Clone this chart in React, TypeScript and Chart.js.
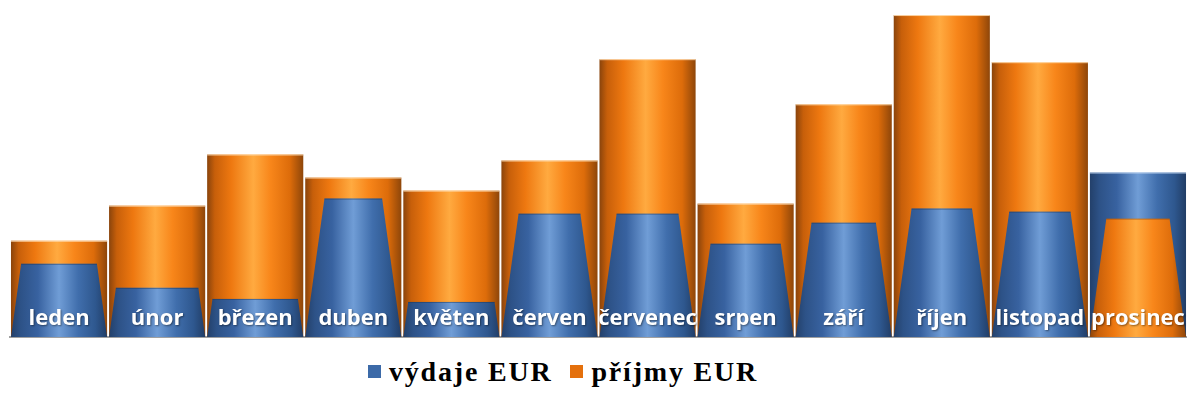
import React, { useEffect, useRef } from "react";
import { Chart, registerables } from "chart.js";

Chart.register(...registerables);

const months = ["leden", "únor", "březen", "duben", "květen", "červen", "červenec", "srpen", "září", "říjen", "listopad", "prosinec"];
const vydaje = [73, 49, 38, 138, 35, 123, 123, 93, 114, 128, 125, 164];
const prijmy = [96, 131, 182, 159, 146, 176, 277, 133, 232, 321, 274, 118];
const seriesNames = ["výdaje EUR", "příjmy EUR"];
const Y_MAX = 336;
const CONE_APEX = 345;

const BLUE = "#3C6AA8";
const ORANGE = "#E4700C";

function makeGrad(ctx: CanvasRenderingContext2D, x0: number, x1: number, kind: "b" | "o") {
  const g = ctx.createLinearGradient(x0, 0, x1, 0);
  if (kind === "o") {
    g.addColorStop(0, "#8A440C");
    g.addColorStop(0.08, "#C75F0A");
    g.addColorStop(0.25, "#EE7810");
    g.addColorStop(0.48, "#FFAA40");
    g.addColorStop(0.66, "#F8861A");
    g.addColorStop(0.86, "#DD6C0A");
    g.addColorStop(1, "#8E460A");
  } else {
    g.addColorStop(0, "#23406A");
    g.addColorStop(0.1, "#2D5287");
    g.addColorStop(0.28, "#3862A0");
    g.addColorStop(0.5, "#709DD6");
    g.addColorStop(0.7, "#406EAC");
    g.addColorStop(0.88, "#2E578E");
    g.addColorStop(1, "#213D66");
  }
  return g;
}

const shapesPlugin = {
  id: "cylinderCone",
  beforeDatasetDraw() {
    return false;
  },
  afterDatasetsDraw(chart: any) {
    const ctx: CanvasRenderingContext2D = chart.ctx;
    const m0 = chart.getDatasetMeta(0);
    const m1 = chart.getDatasetMeta(1);
    const ys = chart.scales.y;
    const apexY = ys.getPixelForValue(CONE_APEX);
    const labels: string[] = chart.data.labels;
    const d0: number[] = chart.data.datasets[0].data;
    const d1: number[] = chart.data.datasets[1].data;
    labels.forEach((lab, i) => {
      const e0 = m0.data[i];
      const e1 = m1.data[i];
      const orangeBig = d1[i] >= d0[i];
      const big = orangeBig ? e1 : e0;
      const small = orangeBig ? e0 : e1;
      const bigKind = orangeBig ? "o" : "b";
      const smallKind = orangeBig ? "b" : "o";
      const x = big.x;
      const w = big.width;
      const base = big.base;
      const left = x - w / 2;
      const right = x + w / 2;
      ctx.save();
      ctx.fillStyle = makeGrad(ctx, left, right, bigKind as any);
      ctx.fillRect(left, big.y, w, base - big.y);
      ctx.fillStyle = bigKind === "o" ? "rgba(255,222,180,0.9)" : "rgba(190,212,240,0.9)";
      ctx.fillRect(left, big.y, w, 1);
      const hwBase = w / 2;
      const hwTop = (hwBase * (small.y - apexY)) / (base - apexY);
      ctx.beginPath();
      ctx.moveTo(x - hwBase, base);
      ctx.lineTo(x - hwTop, small.y);
      ctx.lineTo(x + hwTop, small.y);
      ctx.lineTo(x + hwBase, base);
      ctx.closePath();
      ctx.fillStyle = makeGrad(ctx, left, right, smallKind as any);
      ctx.fill();
      ctx.strokeStyle = smallKind === "o" ? "rgba(140,70,10,0.5)" : "rgba(30,55,90,0.5)";
      ctx.lineWidth = 1;
      ctx.beginPath();
      ctx.moveTo(x - hwTop, small.y + 0.5);
      ctx.lineTo(x + hwTop, small.y + 0.5);
      ctx.stroke();
      ctx.font = "bold 22px 'Open Sans'";
      ctx.fillStyle = "#FFFFFF";
      ctx.textAlign = "center";
      ctx.textBaseline = "alphabetic";
      ctx.shadowColor = "rgba(0,0,0,0.45)";
      ctx.shadowBlur = 2;
      ctx.shadowOffsetX = 1;
      ctx.shadowOffsetY = 1;
      ctx.fillText(lab, x, base - 12);
      ctx.restore();
    });
  },
};

export default function App() {
  const canvasRef = useRef<HTMLCanvasElement | null>(null);

  useEffect(() => {
    if (!canvasRef.current) return;
    const chart = new Chart(canvasRef.current, {
      type: "bar",
      data: {
        labels: months,
        datasets: [
          { label: seriesNames[0], data: vydaje, backgroundColor: BLUE, grouped: false, barPercentage: 0.98, categoryPercentage: 1 } as any,
          { label: seriesNames[1], data: prijmy, backgroundColor: ORANGE, grouped: false, barPercentage: 0.98, categoryPercentage: 1 } as any,
        ],
      },
      options: {
        animation: false,
        responsive: true,
        maintainAspectRatio: false,
        layout: { padding: { left: 10, right: 0, top: 0, bottom: 3 } },
        plugins: { legend: { display: false }, tooltip: { enabled: false } },
        scales: {
          x: {
            display: true,
            grid: { display: false, drawTicks: false },
            ticks: { display: false },
            border: { display: true, color: "#A0A0A0", width: 2 },
          },
          y: { display: false, min: 0, max: Y_MAX },
        },
      },
      plugins: [shapesPlugin as any],
    });
    return () => chart.destroy();
  }, []);

  const itemStyle: React.CSSProperties = { display: "flex", alignItems: "baseline", whiteSpace: "nowrap" };
  const box = (c: string): React.CSSProperties => ({
    display: "inline-block",
    width: 13,
    height: 13,
    background: c,
    marginRight: 8,
    position: "relative",
    top: -3,
  });

  return (
    <div style={{ position: "fixed", left: 0, top: 0, width: 1187, height: 398, background: "#fff" }}>
      <div style={{ position: "absolute", left: 0, top: 0, width: 1187, height: 340 }}>
        <canvas ref={canvasRef} />
      </div>
      <div
        style={{
          position: "absolute",
          left: 368,
          top: 356,
          display: "flex",
          alignItems: "baseline",
          fontFamily: "'Liberation Serif', 'Times New Roman', serif",
          fontWeight: "bold",
          fontSize: 28,
          lineHeight: "31px",
          letterSpacing: "1.8px",
          color: "#000",
        }}
      >
        <span style={itemStyle}>
          <span style={box(BLUE)} />
          {seriesNames[0]}
        </span>
        <span style={{ ...itemStyle, marginLeft: 18 }}>
          <span style={box(ORANGE)} />
          {seriesNames[1]}
        </span>
      </div>
    </div>
  );
}
